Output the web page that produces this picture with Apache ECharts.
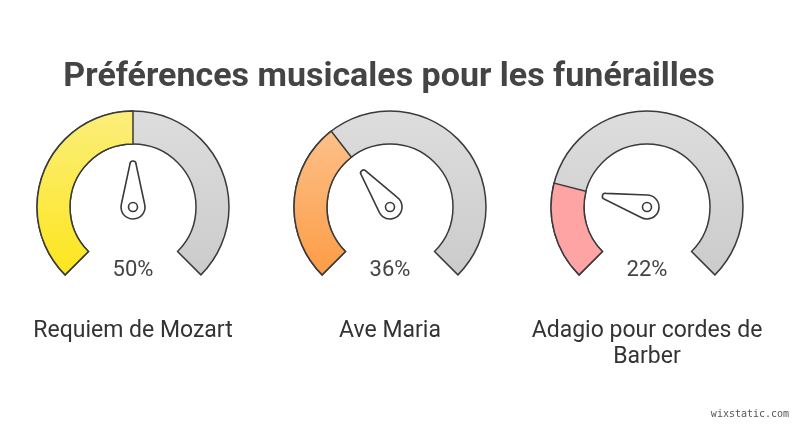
<!DOCTYPE html>
<html>
<head>
<meta charset="utf-8">
<script src="https://cdn.jsdelivr.net/npm/echarts@6/dist/echarts.min.js"></script>
<style>
  html, body { margin: 0; padding: 0; background: #fff; }
  #chart { width: 800px; height: 429px; }
</style>
</head>
<body>
<div id="chart"></div>
<script>
    "use strict";
    // data
    var categories = ['Requiem de Mozart', 'Ave Maria', 'Adagio pour cordes de\nBarber'];
    var values = [50, 36, 22];
    var topColors = ['#fbee7c', '#fdc088', '#ffa4a4'];
    var bottomColors = ['#fde61c', '#fc9c46', '#ffa4a4'];

    var centersX = [133, 390, 647];
    var centerY = 207;
    var outline = '#3a3a3a';
    var font = 'Roboto';

    // teardrop needle, tip up, pivot ring at the bottom
    var needle = 'path://M9,3 A3,3 0 0 1 15,3 L23.6,43 A12,12 0 1 1 0.4,43 Z';

    function grad(top, bottom) {
        return new echarts.graphic.LinearGradient(0, 0, 0, 1, [
            {offset: 0, color: top},
            {offset: 1, color: bottom}
        ]);
    }

    var base = {
        type: 'gauge',
        startAngle: 225,
        endAngle: -45,
        min: 0,
        max: 100,
        radius: 96,
        axisLine: {show: false},
        axisTick: {show: false},
        splitLine: {show: false},
        axisLabel: {show: false}
    };

    var series = [];
    categories.forEach(function (name, i) {
        var twoLines = name.indexOf('\n') >= 0;
        // grey track
        series.push(Object.assign({}, base, {
            center: [centersX[i], centerY],
            progress: {
                show: true,
                width: 33,
                itemStyle: {color: grad('#dddddd', '#cbcbcb'), borderColor: outline, borderWidth: 1.5}
            },
            pointer: {show: false},
            anchor: {show: false},
            title: {show: false},
            detail: {show: false},
            data: [{value: 100}]
        }));
        // coloured value
        series.push(Object.assign({}, base, {
            center: [centersX[i], centerY],
            progress: {
                show: true,
                width: 33,
                itemStyle: {color: grad(topColors[i], bottomColors[i]), borderColor: outline, borderWidth: 1.5}
            },
            pointer: {
                icon: needle,
                length: 58,
                width: 24,
                offsetCenter: [0, 12],
                itemStyle: {color: '#fff', borderColor: outline, borderWidth: 1.6}
            },
            anchor: {
                show: true,
                showAbove: true,
                size: 9,
                itemStyle: {color: '#fff', borderColor: outline, borderWidth: 1.6}
            },
            title: {
                offsetCenter: [0, twoLines ? 137 : 124],
                fontSize: 23,
                lineHeight: 26,
                color: '#333',
                fontFamily: font
            },
            detail: {
                offsetCenter: [0, 63],
                fontSize: 22,
                color: '#444',
                fontWeight: 'normal',
                fontFamily: font,
                formatter: '{value}%'
            },
            data: [{value: values[i], name: name}]
        }));
    });

    var myChart = echarts.init(document.getElementById('chart'));
    myChart.setOption({
        animation: false,
        graphic: [
            {
                type: 'text',
                x: 389,
                y: 77,
                style: {
                    text: 'Préférences musicales pour les funérailles',
                    font: 'bold 34px Roboto',
                    fill: '#444',
                    textAlign: 'center',
                    textVerticalAlign: 'middle'
                }
            },
            {
                type: 'text',
                x: 750,
                y: 414,
                style: {
                    text: 'wixstatic.com',
                    font: '10px "DejaVu Sans Mono"',
                    fill: '#555',
                    textAlign: 'center',
                    textVerticalAlign: 'middle'
                }
            }
        ],
        series: series
    });
</script>
</body>
</html>
